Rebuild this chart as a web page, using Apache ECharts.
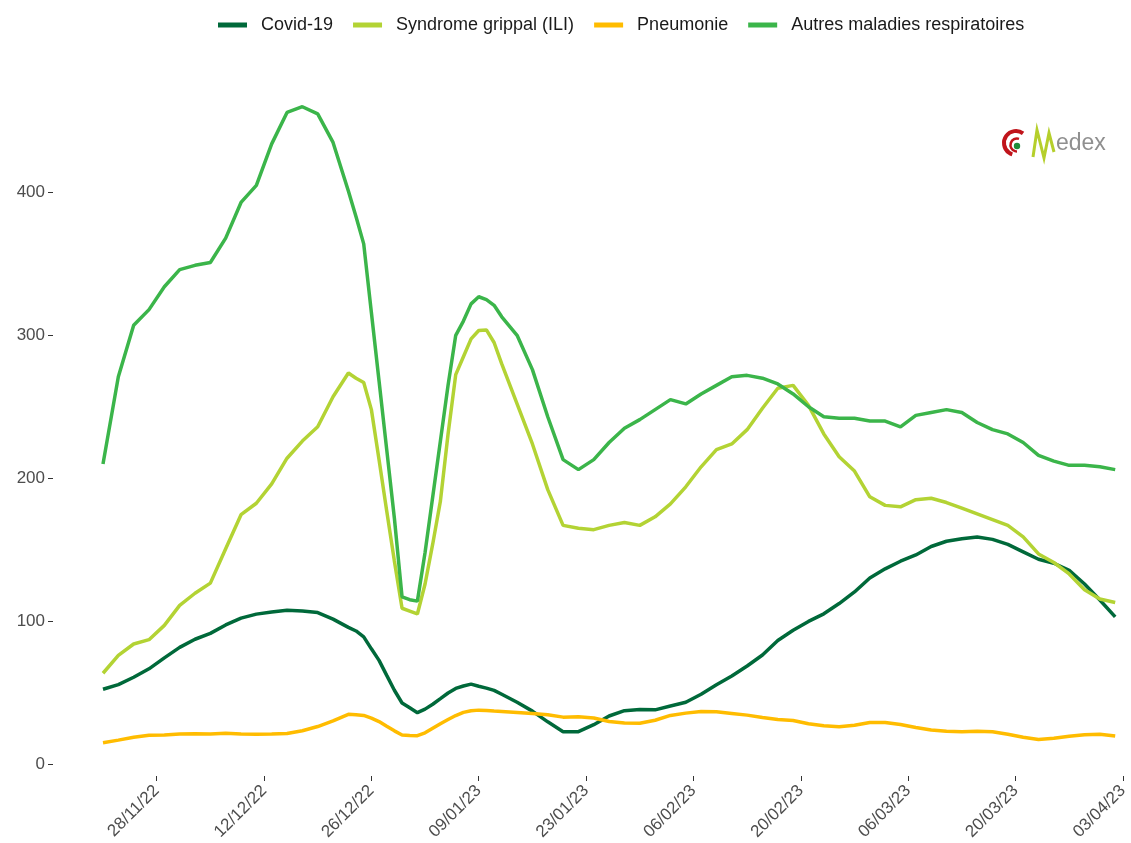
<!DOCTYPE html>
<html><head><meta charset="utf-8">
<script src="https://cdn.jsdelivr.net/npm/echarts@6/dist/echarts.min.js"></script>
<style>html,body{margin:0;padding:0;background:#fff}#c{width:1131px;height:843px}</style>
</head><body><div id="c"></div>
<script>
const dates = ['2022-11-21','2022-11-23','2022-11-25','2022-11-27','2022-11-29','2022-12-01','2022-12-03','2022-12-05','2022-12-07','2022-12-09','2022-12-11','2022-12-13','2022-12-15','2022-12-17','2022-12-19','2022-12-21',
'2022-12-23','2022-12-24','2022-12-25','2022-12-26','2022-12-27','2022-12-28','2022-12-29','2022-12-30','2022-12-31','2023-01-01','2023-01-02','2023-01-03','2023-01-04','2023-01-05','2023-01-06','2023-01-07','2023-01-08','2023-01-09','2023-01-10','2023-01-11','2023-01-12',
'2023-01-14','2023-01-16','2023-01-18','2023-01-20','2023-01-22','2023-01-24','2023-01-26','2023-01-28','2023-01-30','2023-02-01','2023-02-03','2023-02-05','2023-02-07','2023-02-09','2023-02-11','2023-02-13','2023-02-15','2023-02-17','2023-02-19','2023-02-21','2023-02-23','2023-02-25','2023-02-27','2023-03-01','2023-03-03','2023-03-05','2023-03-07','2023-03-09','2023-03-11','2023-03-13','2023-03-15','2023-03-17','2023-03-19','2023-03-21','2023-03-23','2023-03-25','2023-03-27','2023-03-29','2023-03-31','2023-04-02'];

const covid = [52.3,55.6,60.7,66.6,74.3,81.6,87.3,91.4,97.3,102.1,104.9,106.4,107.6,107.1,106,101.4,
95.6,93.1,89,80.6,72.5,62,51.6,42.7,39.3,35.9,38.4,41.8,45.7,49.7,52.9,54.6,55.9,54.4,53.1,51.5,48.8,
43.2,37,29.5,22.6,22.6,27.5,33.6,37.3,38.2,37.9,40.6,43.2,48.8,55.5,61.6,68.6,76.3,86.4,93.6,99.8,105.1,112.3,120.4,130.2,136.6,141.9,146.3,152.2,155.9,157.7,158.8,157.2,153.7,148.5,143.3,140.5,135.6,126,114.8,103];

const ili = [63.5,76,84,87,97,111,119.5,126.6,150.6,174.5,182.5,196,214,226,236,257,
273.6,270,267,248,213,177,142,109,107,105,126,154,184,231,272.5,285,297.5,303.4,303.8,295,280,
252,224,192,167,165,164,167,169,167,173,182,194,208,220,224,234,249,263,265,251,231,215,205,187,181,180,185,186,183,179,175,171,167,159,147,141,133,122,115.5,113];

const pneumonie = [14.9,16.7,18.7,20.1,20.3,21,21.2,21,21.5,21,20.9,21,21.4,23.3,26.2,30.2,
34.8,34.5,34,32.1,29.7,26.4,23.2,20.3,19.9,19.8,21.8,25,28.2,31.1,33.9,36.1,37.3,37.7,37.5,37.1,36.8,
36.1,35.4,34.4,32.8,33,32.2,29.8,28.7,28.5,30.6,34,35.6,36.8,36.6,35.4,34.2,32.5,31.2,30.4,28.2,26.8,26.1,27.1,29,29.1,27.6,25.6,23.8,22.9,22.6,23,22.6,20.8,18.7,17.2,18,19.4,20.4,20.8,19.6];

const autres = [210,271,307,318,334,346,349,351,368,393,405,434,456,460,455,435,
401,383,364,316,268,220,172,117,115,114,148,187,226,265,300,310,322,327,325,321,313,
300,276,243,213,206,213,225,235,241,248,255,252,259,265,271,272,270,266,259,250,243,242,242,240,240,236,244,246,248,246,239,234,231,225,216,212,209,209,208,206];

const seriesNames = ['Covid-19','Syndrome grippal (ILI)','Pneumonie','Autres maladies respiratoires'];
const seriesColors = ['#00693A','#B3D334','#FFBC00','#3BB54A'];
const tickDates = ['2022-11-28','2022-12-12','2022-12-26','2023-01-09','2023-01-23','2023-02-06','2023-02-20','2023-03-06','2023-03-20','2023-04-03'];
const yTicks = [0,100,200,300,400];

function ts(s){const p=s.split('-').map(Number);return new Date(p[0],p[1]-1,p[2]).getTime();}
const DAY = 864e5;
const t0 = ts(dates[0]);
const pair = vals => dates.map((d,i)=>[ts(d), vals[i]]);
const allVals = [covid, ili, pneumonie, autres];
const pad = n => (n<10?'0':'')+n;
const FONT = "'Liberation Sans', Arial, sans-serif";

const chart = echarts.init(document.getElementById('c'), null, {renderer:'canvas'});
chart.setOption({
  animation:false,
  backgroundColor:'#fff',
  textStyle:{fontFamily:FONT},
  legend:{
    top:11, left:213, icon:'rect', itemWidth:29, itemHeight:5, itemGap:20,
    textStyle:{fontSize:18, color:'#1a1a1a', fontFamily:FONT, padding:[0,0,0,9]},
    data:seriesNames
  },
  grid:{left:53, right:0, top:77, bottom:67, containLabel:false},
  xAxis:{
    type:'value',
    min: t0 - 6.52*DAY, max: t0 + 134.03*DAY,
    axisLine:{show:false, onZero:false},
    splitLine:{show:false},
    axisTick:{show:true, length:5, lineStyle:{color:'#333', width:1}, customValues: tickDates.map(ts)},
    axisLabel:{
      customValues: tickDates.map(ts), rotate:45, margin:12, fontSize:17, color:'#4d4d4d', fontFamily:FONT,
      formatter: v => { const d=new Date(v); return pad(d.getDate())+'/'+pad(d.getMonth()+1)+'/'+String(d.getFullYear()).slice(2); }
    }
  },
  yAxis:{
    type:'value', min:-8.4, max:480.8,
    axisLine:{show:false, onZero:false},
    splitLine:{show:false},
    axisTick:{show:true, length:5, lineStyle:{color:'#333', width:1}, customValues: yTicks},
    axisLabel:{customValues: yTicks, margin:8, fontSize:17, color:'#4d4d4d', fontFamily:FONT}
  },
  series: seriesNames.map((n,i)=>({
    name:n, type:'line', data: pair(allVals[i]), showSymbol:false, symbol:'none',
    lineStyle:{width:3.5, color:seriesColors[i]}, itemStyle:{color:seriesColors[i]},
    z: 2+i
  })),
  graphic:[
    {type:'arc', shape:{cx:1016, cy:143, r:12, startAngle:-Math.PI*0.3, endAngle:Math.PI*0.6, clockwise:false},
      style:{stroke:'#C0141B', lineWidth:4, fill:null}},
    {type:'arc', shape:{cx:1017, cy:145, r:6.5, startAngle:-Math.PI*0.4, endAngle:Math.PI*0.5, clockwise:false},
      style:{stroke:'#C0141B', lineWidth:2.5, fill:null}},
    {type:'circle', shape:{cx:1017, cy:146, r:3.2}, style:{fill:'#1E8C3A'}},
    {type:'polyline', shape:{points:[[1033,157],[1037,130],[1044,158],[1049,133],[1054,152]]},
      style:{stroke:'#B5CF2B', lineWidth:3, fill:null}},
    {type:'text', style:{text:'edex', x:1056, y:155, textVerticalAlign:'bottom', fontSize:23, fill:'#8f8f8f', fontFamily:FONT}}
  ]
});
</script></body></html>
